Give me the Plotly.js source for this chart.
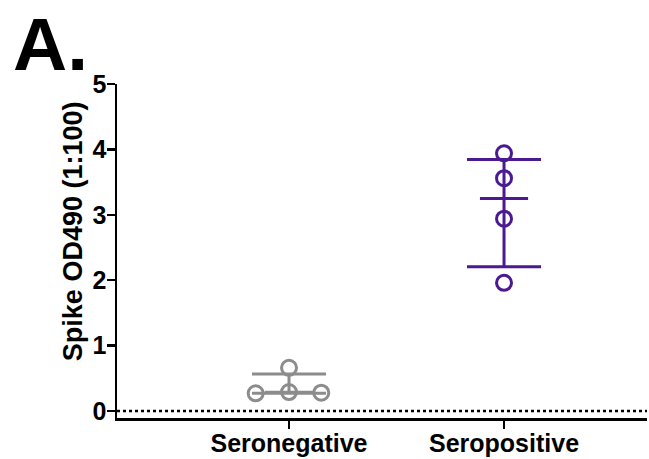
<!DOCTYPE html>
<html>
<head>
<meta charset="utf-8">
<script src="https://cdn.plot.ly/plotly-3.0.1.min.js"></script>
<style>html,body{margin:0;padding:0;background:#fff;}#chart{width:649px;height:459px;}</style>
</head>
<body>
<div id="chart"></div>
<script>
// Data
var categories = ["Seronegative", "Seropositive"];
var seronegative = [0.27, 0.29, 0.28, 0.66];
var seropositive = [3.94, 3.56, 2.94, 1.96];
var yTicks = [0, 1, 2, 3, 4, 5];
var yTitle = "Spike OD490 (1:100)";
var panelLabel = "A.";

// point scatter offsets (scatter-dot-plot jitter, in category units)
var jitterNeg = [-0.155, 0, 0.15, 0];
var jitterPos = [0, 0, 0, 0];

var colors = ["#8c8c8c", "#4b1a91"];

function quant(arr, p) { // Prism-style (n+1) quantile
  var s = arr.slice().sort(function(a,b){return a-b;});
  var n = s.length, pos = p*(n+1) - 1;
  if (pos <= 0) return s[0];
  if (pos >= n-1) return s[n-1];
  var lo = Math.floor(pos), f = pos - lo;
  return s[lo] + f*(s[lo+1]-s[lo]);
}

var groups = [seronegative, seropositive];
var jitters = [jitterNeg, jitterPos];
var traces = [];
groups.forEach(function(vals, i){
  var med = quant(vals, 0.5), q1 = quant(vals, 0.25), q3 = quant(vals, 0.75);
  traces.push({
    x: vals.map(function(v,k){return i + jitters[i][k];}),
    y: vals, type: 'scatter', mode: 'markers', cliponaxis: false,
    marker: {symbol: 'circle-open', size: 15, color: colors[i], line: {width: 3, color: colors[i]}},
    hoverinfo: 'y', showlegend: false
  });
  traces.push({
    x: [i], y: [med], type: 'scatter', mode: 'markers', cliponaxis: false,
    marker: {size: 0.1, color: colors[i], opacity: 0},
    error_y: {type: 'data', symmetric: false, array: [q3 - med], arrayminus: [med - q1], width: 37, thickness: 3, color: colors[i]},
    error_x: {type: 'constant', value: 0.112, width: 0, thickness: 3, color: colors[i]},
    hoverinfo: 'skip', showlegend: false
  });
});

var F = 'Liberation Sans, Arial, sans-serif';
var layout = {
  width: 649, height: 459,
  margin: {l: 117, r: 2, t: 84, b: 41},
  paper_bgcolor: '#fff', plot_bgcolor: '#fff',
  font: {family: F, color: '#000'},
  showlegend: false,
  xaxis: {
    range: [-0.8, 1.665], tickvals: [0, 1], ticktext: categories.map(function(c){return '<b>'+c+'</b>';}),
    showgrid: false, zeroline: false, showline: true, linecolor: '#000', linewidth: 2.5,
    ticks: 'outside', ticklen: 8, tickwidth: 2.5, tickcolor: '#000', ticklabelstandoff: -7,
    tickfont: {size: 25, family: F, color: '#000'}
  },
  yaxis: {
    range: [-0.107, 5], tickvals: yTicks, ticktext: yTicks.map(function(t){return '<b>'+t+'</b>';}),
    showgrid: false, zeroline: false, showline: true, linecolor: '#000', linewidth: 2.5,
    ticks: 'outside', ticklen: 8, tickwidth: 2.5, tickcolor: '#000', ticklabelstandoff: -5,
    tickfont: {size: 25, family: F, color: '#000'}
  },
  shapes: [{type: 'line', xref: 'paper', yref: 'y', x0: 0, x1: 1, y0: 0, y1: 0, line: {color: '#000', width: 2.5, dash: 'dot'}}],
  annotations: [
    {text: '<b>' + panelLabel + '</b>', xref: 'paper', yref: 'paper', x: -0.2, y: 1.2515, xanchor: 'left', yanchor: 'top', showarrow: false,
     font: {size: 75, family: F, color: '#000'}},
    {text: '<b>' + yTitle + '</b>', xref: 'paper', yref: 'y', x: -0.083, y: 2.75, xanchor: 'center', yanchor: 'middle', textangle: -90, showarrow: false,
     font: {size: 27, family: F, color: '#000'}}
  ]
};

Plotly.newPlot('chart', traces, layout, {displayModeBar: false, staticPlot: true});
</script>
</body>
</html>
